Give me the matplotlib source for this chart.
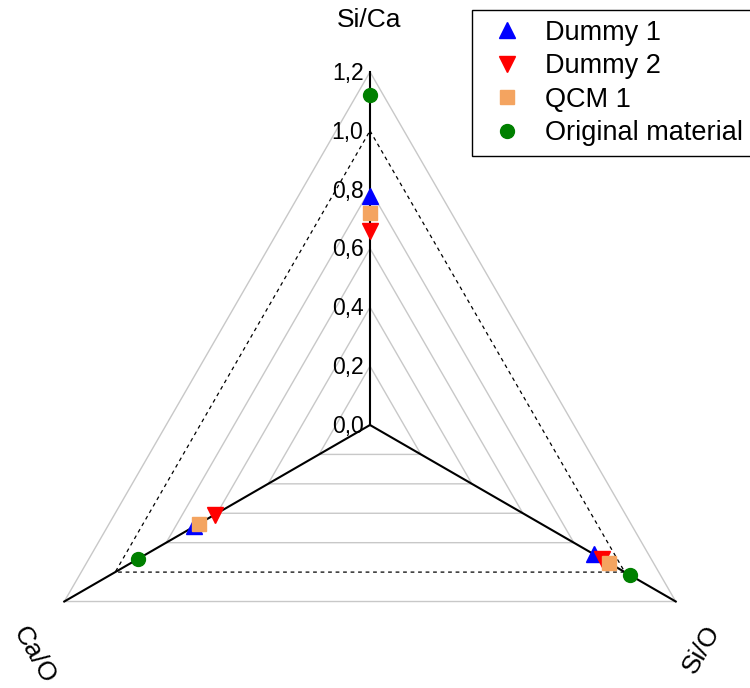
import numpy as np
import matplotlib
matplotlib.use("Agg")
import matplotlib.pyplot as plt

plt.rcParams['font.family'] = ['Liberation Sans', 'DejaVu Sans']

# axes of the triangle plot (angle in degrees)
axis_names = ['Si/Ca', 'Si/O', 'Ca/O']
axis_angles = [90, -30, 210]

# values read per axis: Si/Ca, Si/O, Ca/O
dummy1 = [0.78, 0.88, 0.69]
dummy2 = [0.66, 0.91, 0.61]
qcm1 = [0.72, 0.94, 0.67]
original = [1.12, 1.02, 0.91]

levels = [0.0, 0.2, 0.4, 0.6, 0.8, 1.0, 1.2]
level_labels = ['0,0', '0,2', '0,4', '0,6', '0,8', '1,0', '1,2']

series = [
    ('Dummy 1', dummy1, '^', '#0000FF', 12),
    ('Dummy 2', dummy2, 'v', '#FF0000', 12),
    ('QCM 1', qcm1, 's', '#F4A460', 9.5),
    ('Original material', original, 'o', '#008000', 10),
]


def to_xy(values):
    ang = np.radians(axis_angles)
    v = np.asarray(values)
    return v * np.cos(ang), v * np.sin(ang)


fig = plt.figure(figsize=(7.5, 6.88), dpi=100)
ax = fig.add_axes([0, 0, 1, 1])
scale = 294.2  # pixels per unit
ax.set_xlim(-370 / scale, 380 / scale)
ax.set_ylim(-263 / scale, 425 / scale)
ax.axis('off')

# triangular grid
for lev in levels[1:]:
    x, y = to_xy([lev] * 3)
    x = np.append(x, x[0])
    y = np.append(y, y[0])
    if lev == 1.0:
        ax.plot(x, y, color='black', lw=0.9, ls=(0, (3, 3)), zorder=1)
    else:
        ax.plot(x, y, color='#c8c8c8', lw=1.0, zorder=1)

# axis spokes
for a in axis_angles:
    ax.plot([0, np.cos(np.radians(a)) * 1.2], [0, np.sin(np.radians(a)) * 1.2],
            color='black', lw=1.5, zorder=2)

# tick labels along the top axis
for lev, lab in zip(levels, level_labels):
    ax.text(-6.5 / scale, lev - 1.5 / scale, lab, ha='right', va='center', fontsize=16.5)

# axis titles
ax.text(-1 / scale, 405 / scale, axis_names[0], ha='center', va='center', fontsize=19)
ax.text(332 / scale, -224 / scale, axis_names[1], ha='center', va='center',
        fontsize=19, rotation=60, rotation_mode='anchor')
ax.text(-336 / scale, -230 / scale, axis_names[2], ha='center', va='center',
        fontsize=19, rotation=-60, rotation_mode='anchor')

for name, vals, marker, color, ms in series:
    x, y = to_xy(vals)
    ax.plot(x, y, ls='none', marker=marker, color=color, ms=ms, label=name, zorder=3)

leg = ax.legend(loc='upper left', bbox_to_anchor=(472 / 750, 1 - 10 / 688),
                bbox_transform=fig.transFigure, borderaxespad=0, fontsize=19.5,
                fancybox=False, edgecolor='black', framealpha=1,
                borderpad=0.36, handlelength=1.85, handletextpad=0.5,
                labelspacing=0.28, numpoints=1)
leg.get_frame().set_linewidth(1.0)

fig.savefig('out.png', dpi=100)
